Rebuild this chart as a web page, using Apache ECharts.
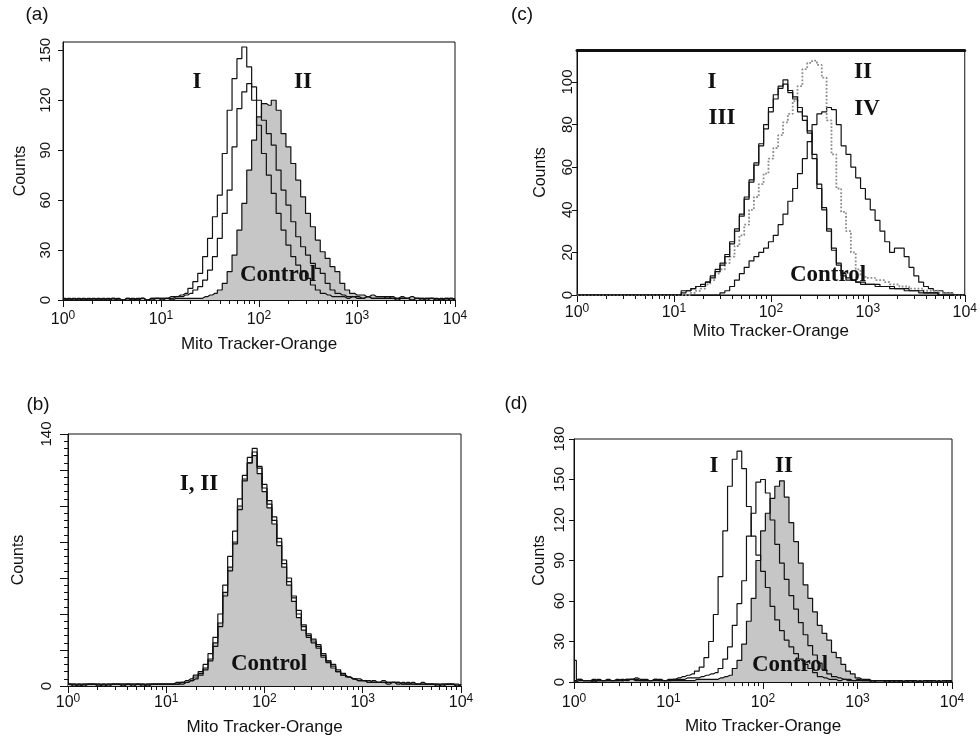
<!DOCTYPE html>
<html>
<head>
<meta charset="utf-8">
<script src="https://cdn.jsdelivr.net/npm/echarts@6/dist/echarts.min.js"></script>
<style>html,body{margin:0;padding:0;background:#fff}#chart{width:980px;height:740px}</style>
</head>
<body>
<div id="chart"></div>
<script>
// ---------- channel (bin) positions : 20 bins per decade, 10^0 .. 10^4 ----------
const BIN_MANTISSA = [1.000,1.122,1.259,1.413,1.585,1.778,1.995,2.239,2.512,2.818,3.162,3.548,3.981,4.467,5.012,5.623,6.310,7.079,7.943,8.913];
const DECADES = [1, 10, 100, 1000];
const channels = [];
DECADES.forEach(d => BIN_MANTISSA.forEach(m => channels.push(+(m * d).toPrecision(4))));
channels.push(10000);

// ---------- tick labels ----------
const xTickExponents = [0, 1, 2, 3, 4];
const yTicksA = [0, 30, 60, 90, 120, 150];
const yTicksB = [0, 140];
const yTicksC = [0, 20, 40, 60, 80, 100];
const yTicksD = [0, 30, 60, 90, 120, 150, 180];

// ---------- panel (a) ----------
const a_I = [1,0,0,1,0,1,0,0,1,0,1,0,0,1,0,1,1,0,1,1,
  1,1,2,2,3,4,7,11,16,26,37,50,63,88,114,133,145,152,140,120,105,88,75,64,52,42,33,26,21,17,13,9,6,4,3,2,2,
  2,1,2,1,1,2,1,1,1,1, 1,0,1,1,0,1,0,1,1,0,1,0,1,0];
const a_II = [0,1,0,0,1,0,0,1,0,1,0,1,0,0,1,0,1,0,1,1,
  1,1,1,2,2,3,4,6,8,12,18,26,37,52,66,92,115,125,130,128,120,108,100,93,78,66,57,47,38,32,27,22,19,16,10,6,4,3,2,2,2,
  1,2,1,1,1,2,1,1,1,1,0,1,1,0,1,0,0,1,0,1];
const a_Control = [0,0,1,0,0,0,1,0,0,0,1,0,0,1,0,0,1,0,0,1, 0,1,0,1,1,1,1,1,
  1,2,3,4,6,10,17,27,42,58,78,96,110,118,117,120,114,100,92,82,72,62,52,44,36,29,25,20,17,10,6,4,3,3,2,3,2,2,2,2,1,2,1,2,1,1,1,1,1,0,1,1,0];

// ---------- panel (b) ----------
const b_I = [1,0,1,1,1,1,1,0,1,1,1,1,1,0,1,1,1,1,1,1,
  1,1,2,2,3,4,6,8,12,18,27,40,56,72,86,104,117,127,132,121,110,101,92,80,68,58,49,40,33,28,25,22,17,14,11,8,6,5,4,3,3,
  2,2,2,3,2,2,1,2,1,1,1,2,1,1,1,0,1,1,0,1];
const b_II = [1,1,1,0,1,1,1,1,0,1,1,1,1,1,1,0,1,1,1,1,
  1,1,1,1,2,3,4,6,9,14,22,33,50,64,79,98,114,124,130,122,112,103,94,82,70,60,50,42,34,29,26,23,18,14,12,9,7,5,4,4,3,
  3,2,2,2,1,2,2,1,1,2,1,1,1,1,0,1,1,1,0,1];
const b_Control = [1,1,0,1,1,1,0,1,1,1,1,0,1,1,1,1,0,1,1,1,
  1,1,1,2,2,3,5,7,10,15,24,35,52,66,80,100,115,124,128,118,108,99,90,78,66,56,47,38,31,27,24,21,16,13,10,8,6,5,4,3,3,
  2,3,2,2,2,2,2,1,2,1,1,1,1,1,1,1,1,1,1,0];

// ---------- panel (c) ----------
const c_I = [0,0,0,0,0,0,0,0,0,0,0,0,0,0,0,0,0,0,0,0,0,0,
  2,2,3,4,5,6,8,12,15,19,24,31,38,45,53,62,70,78,86,92,98,101,96,92,88,84,77,66,50,40,30,22,15,9,8,7,6,6,5,5,5,4,4,4,3,3,3,2,2,2,1,1,1,
  0,0,0,0,0,0];
const c_III = [0,0,0,0,0,0,0,0,0,0,0,0,0,0,0,0,0,0,0,0,0,0,
  1,2,3,4,4,6,9,11,14,18,25,30,37,46,54,61,71,80,88,94,97,99,95,93,86,82,76,64,52,41,31,21,14,10,7,7,6,5,5,5,4,4,4,3,3,3,2,2,2,1,1,1,1,
  0,0,0,0,0,0];
const c_II = [0,0,0,0,0,0,0,0,0,0,0,0,0,0,0,0,0,0,0,0,0,0,0,0,
  1,2,3,5,7,10,12,15,18,23,28,33,40,46,52,57,64,69,75,81,85,91,98,106,109,110,108,102,82,66,50,39,30,20,12,9,8,8,7,7,6,5,5,4,4,3,3,3,2,2,2,1,1,1,
  0,0,0];
const c_IV = [0,0,0,0,0,0,0,0,0,0,0,0,0,0,0,0,0,0,0,0,0,0,0,0,0,0,0,0,0,0,
  1,2,4,7,10,13,16,18,20,22,25,28,33,38,44,50,57,64,72,80,85,86,88,87,80,70,66,60,55,50,45,40,35,30,25,20,22,22,18,13,9,6,4,3,2,2,1,1,
  0,0,0];

// ---------- panel (d) ----------
const d_I = [16,2,1,1,2,1,1,2,1,2,1,2,2,3,2,2,1,2,2,1,
  2,2,3,4,5,6,8,11,18,30,50,78,112,145,165,171,158,130,108,94,82,70,56,46,38,31,26,21,17,13,10,7,4,3,2,2,
  1,2,1,1,1,1,1,0,1,1,0,1,0,1,0,0,1,0,1,0,0,1,0,0,1];
const d_II = [1,2,1,1,1,2,1,1,1,1,2,1,2,2,1,1,1,2,1,1,
  1,2,2,2,3,3,3,4,5,6,7,10,17,26,42,58,75,108,125,148,150,140,120,102,88,76,64,54,44,35,27,20,14,9,6,4,3,2,
  2,1,2,1,1,1,1,1,1,0,1,1,0,1,0,1,0,0,1,0,1,0,0];
const d_Control = [0,1,1,1,0,1,1,1,1,1,1,2,2,1,1,1,1,1,1,1,1,1,1,1,1,1,2,2,2,2,
  2,3,4,5,10,16,28,45,62,90,112,125,136,145,149,137,118,104,88,72,62,52,42,36,31,22,18,13,8,6,3,2,
  2,1,1,1,1,1,1,0,1,1,1,0,1,1,1,0,1,1,1];

// ---------- rendering ----------
const SANS = '"Liberation Sans", Arial, Helvetica, sans-serif';
const SERIF = '"Liberation Serif", "Times New Roman", serif';
const INK = '#111';
const FILL = '#c6c6c6';

const pairs = vals => vals.map((v, i) => [channels[i], v]);

const minorTickPositions = [];
xTickExponents.slice(0, -1).forEach(e => { for (let k = 2; k <= 9; k++) minorTickPositions.push(e + Math.log10(k)); });

const panels = [
  { grid: {left: 63, top: 42, width: 392, height: 258}, ymax: 155, yTicks: yTicksA,
    yLabelMargin: 10, yNameGap: 34, xLabelMargin: 10, xNameGap: 36,
    series: [
      {name: 'Control', data: a_Control, fill: true},
      {name: 'II', data: a_II},
      {name: 'I', data: a_I}
    ] },
  { grid: {left: 68, top: 434, width: 393, height: 252}, ymax: 140, yTicks: yTicksB, minor: true,
    yLabelMargin: 14, yNameGap: 41, xLabelMargin: 7, xNameGap: 33,
    series: [
      {name: 'Control', data: b_Control, fill: true},
      {name: 'II', data: b_II},
      {name: 'I', data: b_I}
    ] },
  { grid: {left: 577, top: 50, width: 393, height: 245}, ymax: 115, yTicks: yTicksC, thickTop: true,
    yLabelMargin: 2, yNameGap: 28, xLabelMargin: 8, xNameGap: 28,
    series: [
      {name: 'IV', data: c_IV},
      {name: 'II', data: c_II, color: '#8c8c8c', type: 'dotted', width: 1.8},
      {name: 'III', data: c_III},
      {name: 'I', data: c_I}
    ] },
  { grid: {left: 574, top: 439, width: 378, height: 243}, ymax: 180, yTicks: yTicksD,
    yLabelMargin: 7, yNameGap: 26, xLabelMargin: 11, xNameGap: 36,
    series: [
      {name: 'Control', data: d_Control, fill: true},
      {name: 'II', data: d_II},
      {name: 'I', data: d_I}
    ] }
];

const grids = [], xAxes = [], yAxes = [], series = [];
panels.forEach((p, gi) => {
  grids.push(Object.assign({show: true, borderColor: INK, borderWidth: 1, backgroundColor: 'transparent'}, p.grid));
  const mainX = xAxes.length;
  xAxes.push({
    type: 'log', logBase: 10, gridIndex: gi, min: 1, max: 10000, position: 'bottom',
    axisLine: {show: true, lineStyle: {color: INK, width: 1}},
    axisTick: {show: true, length: 7, lineStyle: {color: INK, width: 1}},
    splitLine: {show: false},
    axisLabel: {
      margin: p.xLabelMargin,
      formatter: v => '{b|10}{s|' + Math.round(Math.log10(v)) + '}',
      rich: {
        b: {fontFamily: SANS, fontSize: 16, color: INK, lineHeight: 20},
        s: {fontFamily: SANS, fontSize: 12, color: INK, verticalAlign: 'top', lineHeight: 12}
      }
    },
    name: 'Mito Tracker-Orange', nameLocation: 'middle', nameGap: p.xNameGap,
    nameTextStyle: {fontFamily: SANS, fontSize: 17, color: INK}
  });
  xAxes.push({
    type: 'value', gridIndex: gi, min: 0, max: 4, position: 'bottom', offset: 0,
    axisLine: {show: false}, axisLabel: {show: false}, splitLine: {show: false},
    axisTick: {show: true, length: 4, customValues: minorTickPositions, lineStyle: {color: INK, width: 1}}
  });
  if (p.thickTop) {
    xAxes.push({
      type: 'value', gridIndex: gi, min: 0, max: 4, position: 'top',
      axisLine: {show: true, lineStyle: {color: INK, width: 3}},
      axisTick: {show: false}, axisLabel: {show: false}, splitLine: {show: false}
    });
  }
  const y = {
    type: 'value', gridIndex: gi, min: 0, max: p.ymax,
    axisLine: {show: true, lineStyle: {color: INK, width: 1}},
    splitLine: {show: false},
    axisLabel: {rotate: 90, margin: p.yLabelMargin, fontFamily: SANS, fontSize: 15, color: INK},
    axisTick: {show: true, length: 5, lineStyle: {color: INK, width: 1}},
    name: 'Counts', nameLocation: 'middle', nameRotate: 90, nameGap: p.yNameGap,
    nameTextStyle: {fontFamily: SANS, fontSize: 16, color: INK}
  };
  if (p.minor) {
    y.interval = 20;
    y.axisTick.length = 8;
    y.minorTick = {show: true, splitNumber: 5, length: 4, lineStyle: {color: INK, width: 1}};
    y.axisLabel.formatter = v => (p.yTicks.indexOf(v) >= 0 ? String(v) : '');
  } else {
    y.axisLabel.customValues = p.yTicks;
    y.axisTick.customValues = p.yTicks;
  }
  yAxes.push(y);
  p.series.forEach((s, si) => {
    const ser = {
      type: 'line', name: s.name, xAxisIndex: mainX, yAxisIndex: gi,
      data: pairs(s.data), step: 'middle', symbol: 'none', showSymbol: false,
      animation: false, silent: true, z: 2 + si,
      lineStyle: {color: s.color || INK, width: s.width || 1.2, type: s.type || 'solid'}
    };
    if (s.fill) ser.areaStyle = {color: FILL, opacity: 1};
    series.push(ser);
  });
});

const txt = (t, x, y, font) => ({
  type: 'text', x: x, y: y, z: 100,
  style: {text: t, font: font, fill: INK, align: 'center', verticalAlign: 'middle'}
});
const TITLE_FONT = '19px ' + SANS;
const ANN_FONT = 'bold 23px ' + SERIF;

const graphic = [
  txt('(a)', 37, 15, TITLE_FONT),
  txt('(b)', 38, 405, TITLE_FONT),
  txt('(c)', 522, 15, TITLE_FONT),
  txt('(d)', 516, 404, TITLE_FONT),
  txt('I', 197, 82, ANN_FONT),
  txt('II', 303, 82, ANN_FONT),
  txt('Control', 278, 275, ANN_FONT),
  txt('I, II', 199, 484, ANN_FONT),
  txt('Control', 269, 664, ANN_FONT),
  txt('I', 712, 82, ANN_FONT),
  txt('III', 722, 118, ANN_FONT),
  txt('II', 863, 72, ANN_FONT),
  txt('IV', 867, 109, ANN_FONT),
  txt('Control', 828, 275, ANN_FONT),
  txt('I', 714, 466, ANN_FONT),
  txt('II', 784, 466, ANN_FONT),
  txt('Control', 790, 665, ANN_FONT)
];

const chart = echarts.init(document.getElementById('chart'), null, {renderer: 'canvas', width: 980, height: 740});
chart.setOption({
  animation: false,
  backgroundColor: '#fff',
  grid: grids,
  xAxis: xAxes,
  yAxis: yAxes,
  series: series,
  graphic: graphic
});
</script>
</body>
</html>
